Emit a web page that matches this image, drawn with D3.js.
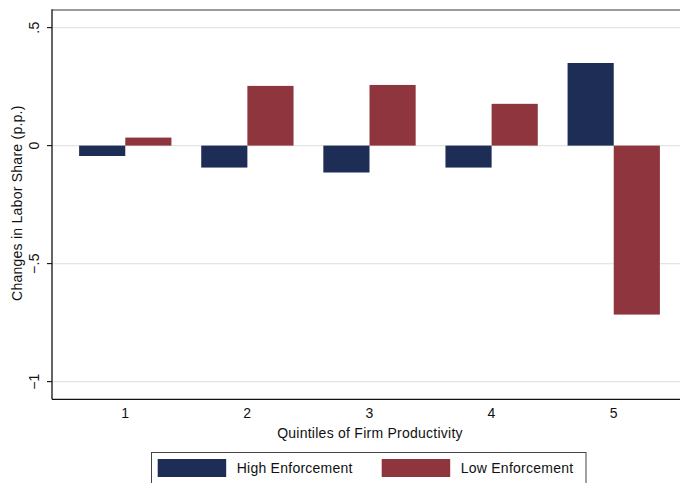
<!DOCTYPE html>
<html>
<head>
<meta charset="utf-8">
<script src="https://cdn.jsdelivr.net/npm/d3@7"></script>
<style>
  html, body { margin: 0; padding: 0; background: #fff; }
  svg { display: block; font-family: "Liberation Sans", Arial, Helvetica, sans-serif; }
  text { letter-spacing: 0.25px; }
</style>
</head>
<body>
<svg id="chart" width="680" height="483"></svg>
<script>
// Quintiles of firm productivity and the change in labor share (p.p.)
const quintiles = ["1", "2", "3", "4", "5"];
const seriesNames = ["High Enforcement", "Low Enforcement"];
const highEnforcement = [-0.044, -0.093, -0.114, -0.093, 0.350];
const lowEnforcement = [0.034, 0.253, 0.257, 0.177, -0.716];
const yTicks = [0.5, 0, -0.5, -1];
const yTickLabels = [".5", "0", "\u2212.5", "\u22121"];
const colors = ["#1d2d55", "#8f353d"];

const svg = d3.select("#chart");
const plotLeft = 52, plotTop = 10, plotBottom = 399.3, plotRight = 687;
const fs = 14;

const y = d3.scaleLinear().domain([-1.075, 0.5746]).range([plotBottom, plotTop]);
const x = d3.scalePoint().domain(quintiles).range([plotLeft, plotRight]).padding(0.6);
const barW = x.step() * 0.378;

// horizontal grid
svg.append("g").selectAll("line").data(yTicks).join("line")
  .attr("x1", plotLeft).attr("x2", 680)
  .attr("y1", d => y(d)).attr("y2", d => y(d))
  .attr("stroke", "#e4e4e4").attr("stroke-width", 1.3);

// bars: high enforcement on the left of each quintile, low on the right
const rows = quintiles.map((q, i) => ({ q, vals: [highEnforcement[i], lowEnforcement[i]] }));
const g = svg.append("g");
rows.forEach(r => {
  r.vals.forEach((v, j) => {
    g.append("rect")
      .attr("x", x(r.q) - barW + j * barW)
      .attr("width", barW)
      .attr("y", y(Math.max(0, v)))
      .attr("height", Math.abs(y(v) - y(0)))
      .attr("fill", colors[j]);
  });
});

// frame: top edge and axes
svg.append("line").attr("x1", plotLeft).attr("x2", 680).attr("y1", plotTop).attr("y2", plotTop)
  .attr("stroke", "#7a7a7a").attr("stroke-width", 1.5);
svg.append("line").attr("x1", plotLeft).attr("x2", plotLeft).attr("y1", plotTop - 0.7).attr("y2", plotBottom)
  .attr("stroke", "#111").attr("stroke-width", 1.3);
svg.append("line").attr("x1", plotLeft).attr("x2", 680).attr("y1", plotBottom).attr("y2", plotBottom)
  .attr("stroke", "#111").attr("stroke-width", 1.3);

// y ticks and labels
const yt = svg.append("g");
yTicks.forEach((t, i) => {
  yt.append("line").attr("x1", plotLeft - 5).attr("x2", plotLeft).attr("y1", y(t)).attr("y2", y(t))
    .attr("stroke", "#111").attr("stroke-width", 1.1);
  yt.append("text")
    .attr("transform", `translate(39,${y(t)}) rotate(-90)`)
    .attr("text-anchor", "middle").attr("font-size", fs).attr("fill", "#111")
    .text(yTickLabels[i]);
});

// x labels
svg.append("g").selectAll("text").data(quintiles).join("text")
  .attr("x", d => x(d)).attr("y", 417.5)
  .attr("text-anchor", "middle").attr("font-size", fs).attr("fill", "#111")
  .text(d => d);

// axis titles
svg.append("text").attr("x", (plotLeft + plotRight) / 2 + 0.5).attr("y", 438)
  .attr("text-anchor", "middle").attr("font-size", fs).attr("fill", "#111")
  .text("Quintiles of Firm Productivity");
svg.append("text")
  .attr("transform", `translate(22,${(plotTop + plotBottom) / 2 - 1.5}) rotate(-90)`)
  .attr("text-anchor", "middle").attr("font-size", fs).attr("fill", "#111")
  .text("Changes in Labor Share (p.p.)");

// legend
const lg = svg.append("g");
lg.append("rect").attr("x", 151.5).attr("y", 452.5).attr("width", 434.5).attr("height", 45)
  .attr("fill", "#fff").attr("stroke", "#444").attr("stroke-width", 1);
const legendX = [157.7, 381.7];
seriesNames.forEach((name, j) => {
  lg.append("rect").attr("x", legendX[j]).attr("y", 459).attr("width", 68.5).attr("height", 18)
    .attr("fill", colors[j]);
  lg.append("text").attr("x", legendX[j] + 79).attr("y", 473)
    .attr("font-size", fs).attr("fill", "#111").text(name);
});
</script>
</body>
</html>
